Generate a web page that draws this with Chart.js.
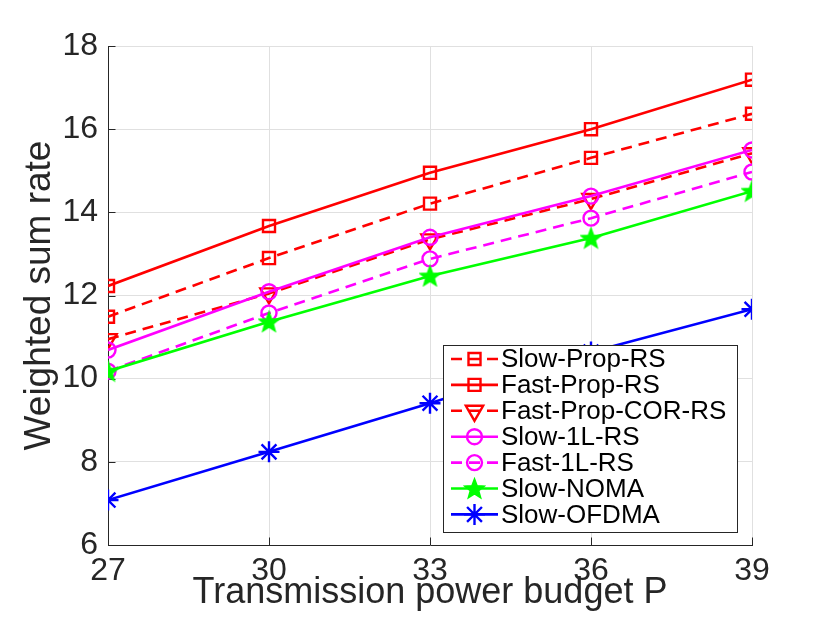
<!DOCTYPE html>
<html><head><meta charset="utf-8">
<script src="https://cdn.jsdelivr.net/npm/chart.js@4.4.0/dist/chart.umd.min.js"></script>
<style>html,body{margin:0;padding:0;background:#fff;} #wrap{width:830px;height:623px;}</style>
</head><body><div id="wrap"><canvas id="c" width="830" height="623"></canvas></div>
<script>
const powerBudget = [27, 30, 33, 36, 39];
const slowPropRS = [11.49, 12.90, 14.21, 15.31, 16.37];
const fastPropRS = [12.23, 13.67, 14.95, 16.00, 17.19];
const fastPropCorRS = [10.95, 12.05, 13.35, 14.32, 15.42];
const slow1LRS = [10.69, 12.09, 13.40, 14.39, 15.50];
const fast1LRS = [10.18, 11.58, 12.88, 13.86, 14.97];
const slowNOMA = [10.18, 11.37, 12.47, 13.38, 14.51];
const slowOFDMA = [7.08, 8.24, 9.41, 10.64, 11.67];
const seriesNames = ['Slow-Prop-RS', 'Fast-Prop-RS', 'Fast-Prop-COR-RS', 'Slow-1L-RS', 'Fast-1L-RS', 'Slow-NOMA', 'Slow-OFDMA'];
const xTicks = [27, 30, 33, 36, 39];
const yTicks = [6, 8, 10, 12, 14, 16, 18];

const FONT = "'Liberation Sans', Arial, Helvetica, sans-serif";
Chart.defaults.font.family = FONT;

function makePentagram(color, R) {
  const s = Math.ceil(R * 2) + 2;
  const c = document.createElement('canvas');
  c.width = s; c.height = s;
  const g = c.getContext('2d');
  const cx = s / 2, cy = s / 2 + R * 0.08;
  g.beginPath();
  for (let i = 0; i < 10; i++) {
    const r = i % 2 === 0 ? R : R * 0.42;
    const a = -Math.PI / 2 + i * Math.PI / 5;
    g.lineTo(cx + r * Math.cos(a), cy + r * Math.sin(a));
  }
  g.closePath();
  g.fillStyle = color; g.fill();
  g.strokeStyle = color; g.lineWidth = 1.5; g.stroke();
  return c;
}

const seriesValues = [slowPropRS, fastPropRS, fastPropCorRS, slow1LRS, fast1LRS, slowNOMA, slowOFDMA];
const styles = [
  {color: '#ff0000', dash: [11, 7], point: 'rect', radius: 8.5, rot: 0},
  {color: '#ff0000', dash: [], point: 'rect', radius: 8.5, rot: 0},
  {color: '#ff0000', dash: [11, 7], point: 'triangle', radius: 10, rot: 180},
  {color: '#ff00ff', dash: [], point: 'circle', radius: 7.5, rot: 0},
  {color: '#ff00ff', dash: [11, 7], point: 'circle', radius: 7.5, rot: 0},
  {color: '#00ff00', dash: [], point: makePentagram('#00ff00', 10.5), radius: 10, rot: 0},
  {color: '#0000ff', dash: [], point: 'star', radius: 10.5, rot: 0}
];

const datasets = seriesValues.map((vals, i) => ({
  label: seriesNames[i],
  data: powerBudget.map((x, j) => ({x: x, y: vals[j]})),
  borderColor: styles[i].color,
  borderWidth: 2.6,
  borderDash: styles[i].dash,
  pointStyle: styles[i].point,
  pointRadius: styles[i].radius,
  pointRotation: styles[i].rot,
  pointBorderColor: styles[i].color,
  pointBackgroundColor: 'rgba(0,0,0,0)',
  pointBorderWidth: 2.4,
  fill: false,
  tension: 0,
  order: seriesValues.length - i
}));

const innerTicks = {
  id: 'innerTicks',
  beforeDatasetsDraw(chart) {
    const {ctx, chartArea: ca, scales} = chart;
    ctx.save();
    ctx.strokeStyle = '#262626';
    ctx.lineWidth = 1;
    ctx.beginPath();
    yTicks.forEach(v => {
      const py = Math.round(scales.y.getPixelForValue(v)) + 0.5;
      ctx.moveTo(ca.left, py); ctx.lineTo(ca.left + 7.5, py);
    });
    xTicks.forEach(v => {
      const px = Math.round(scales.x.getPixelForValue(v)) + 0.5;
      ctx.moveTo(px, ca.bottom); ctx.lineTo(px, ca.bottom - 7.5);
    });
    ctx.stroke();
    ctx.restore();
  }
};

const boxLegend = {
  id: 'boxLegend',
  afterDatasetsDraw(chart) {
    const {ctx, chartArea: ca} = chart;
    const w = 294, h = 187;
    const x0 = Math.round(ca.right - 15 - w), y0 = Math.round(ca.bottom - 13 - h);
    ctx.save();
    ctx.fillStyle = '#ffffff';
    ctx.fillRect(x0, y0, w, h);
    ctx.strokeStyle = '#262626';
    ctx.lineWidth = 1;
    ctx.strokeRect(x0 + 0.5, y0 + 0.5, w, h);
    chart.data.datasets.forEach((ds, i) => {
      const cy = y0 + 14 + i * 25.9;
      const lx0 = x0 + 8, lx1 = x0 + 55, mx = (lx0 + lx1) / 2;
      ctx.strokeStyle = ds.borderColor;
      ctx.lineWidth = ds.borderWidth;
      ctx.setLineDash(ds.borderDash || []);
      ctx.beginPath(); ctx.moveTo(lx0, cy); ctx.lineTo(lx1, cy); ctx.stroke();
      ctx.setLineDash([]);
      ctx.fillStyle = 'rgba(0,0,0,0)';
      ctx.strokeStyle = ds.pointBorderColor;
      ctx.lineWidth = ds.pointBorderWidth;
      Chart.helpers.drawPoint(ctx, {pointStyle: ds.pointStyle, rotation: ds.pointRotation, radius: ds.pointRadius, borderWidth: ds.pointBorderWidth}, mx, cy);
      ctx.fillStyle = '#000000';
      ctx.font = '26px ' + FONT;
      ctx.textBaseline = 'middle';
      ctx.textAlign = 'left';
      ctx.fillText(ds.label, x0 + 58, cy + 1);
    });
    ctx.restore();
  }
};

new Chart(document.getElementById('c'), {
  type: 'line',
  data: {datasets: datasets},
  options: {
    responsive: false,
    animation: false,
    devicePixelRatio: 1,
    layout: {padding: {left: 0, right: 78, top: 46, bottom: 0}},
    plugins: {legend: {display: false}, tooltip: {enabled: false}},
    scales: {
      x: {
        type: 'linear', min: 27, max: 39,
        afterBuildTicks: s => { s.ticks = xTicks.map(v => ({value: v})); },
        afterFit: s => { s.height = 78; },
        grid: {color: '#e0e0e0', lineWidth: 1, drawTicks: false},
        border: {color: '#262626', width: 1},
        ticks: {font: {size: 32}, color: '#262626', padding: 7, maxRotation: 0, autoSkip: false},
        title: {display: true, text: 'Transmission power budget P', font: {size: 36}, color: '#262626', padding: {top: 0, bottom: 8}}
      },
      y: {
        type: 'linear', min: 6, max: 18,
        afterBuildTicks: s => { s.ticks = yTicks.map(v => ({value: v})); },
        afterFit: s => { s.width = 108; },
        grid: {color: '#e0e0e0', lineWidth: 1, drawTicks: false},
        border: {color: '#262626', width: 1},
        ticks: {font: {size: 32}, color: '#262626', padding: 10, autoSkip: false},
        title: {display: true, text: 'Weighted sum rate', font: {size: 37}, color: '#262626', padding: {top: 18, bottom: 0}}
      }
    }
  },
  plugins: [innerTicks, boxLegend]
});
</script>
</body></html>
